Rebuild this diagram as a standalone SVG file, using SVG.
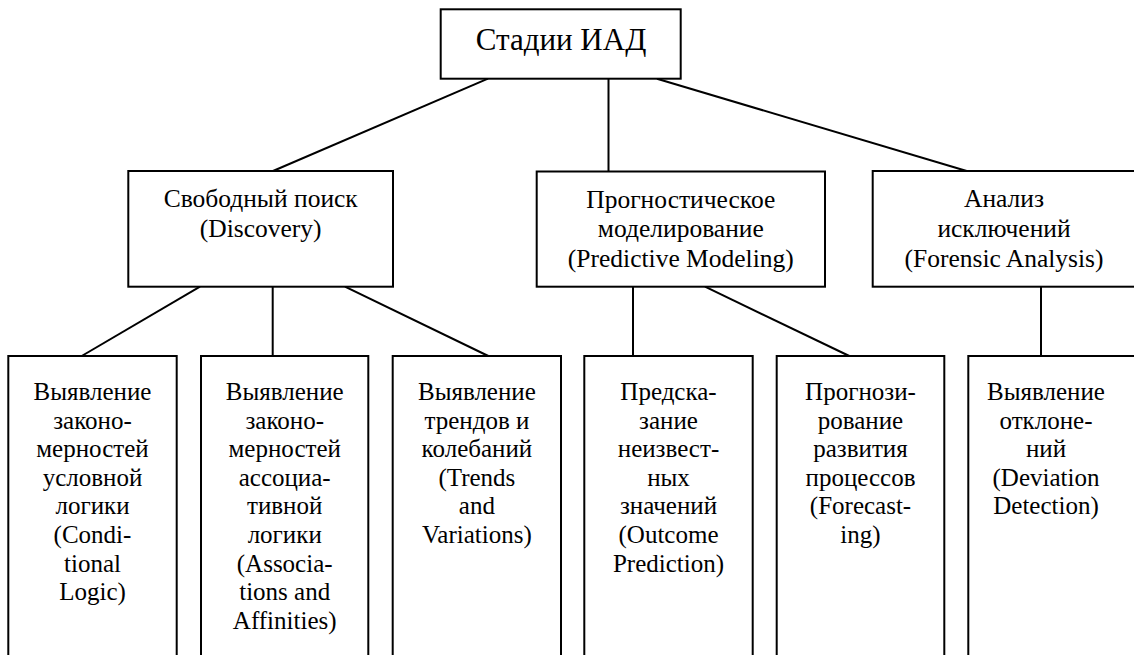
<svg xmlns="http://www.w3.org/2000/svg" width="1134" height="655" viewBox="0 0 1134 655">
<style>
rect{fill:#fff;stroke:#000;stroke-width:2}
line{stroke:#000;stroke-width:2}
text{fill:#000;text-anchor:middle;font-family:'Liberation Serif','DejaVu Serif','Noto Serif',serif}
.t{font-size:31px}
.m{font-size:25.5px}
.b{font-size:25px}
</style>
<rect x="0" y="0" width="1134" height="655" style="stroke:none"/>
<g id="connectors">
<line x1="488" y1="78.7" x2="273" y2="171"/>
<line x1="608.5" y1="78.7" x2="608.5" y2="171.5"/>
<line x1="657" y1="78.7" x2="966.7" y2="171"/>
<line x1="200" y1="286.7" x2="81.7" y2="356"/>
<line x1="272.7" y1="286.7" x2="272.7" y2="356"/>
<line x1="345" y1="286.7" x2="488.3" y2="356"/>
<line x1="633" y1="286.7" x2="633" y2="356"/>
<line x1="705" y1="286.7" x2="849.3" y2="356"/>
<line x1="1041" y1="286.7" x2="1041" y2="356"/>
</g>
<g id="root">
<rect x="440.7" y="9.3" width="240" height="69.4"/>
<text class="t" x="561" y="50">Стадии ИАД</text>
</g>
<g id="discovery">
<rect x="128.3" y="171" width="264.7" height="115.7"/>
<text class="m"><tspan x="260.7" y="207">Свободный поиск</tspan><tspan x="260.7" y="237">(Discovery)</tspan></text>
</g>
<g id="predictive">
<rect x="536.7" y="171.5" width="288.3" height="115.2"/>
<text class="m"><tspan x="680.8" y="207.5">Прогностическое</tspan><tspan x="680.8" y="237">моделирование</tspan><tspan x="680.8" y="266.5">(Predictive Modeling)</tspan></text>
</g>
<g id="forensic">
<rect x="872.7" y="171" width="270" height="115.7"/>
<text class="m"><tspan x="1004" y="207">Анализ</tspan><tspan x="1004" y="237">исключений</tspan><tspan x="1004" y="266.5">(Forensic Analysis)</tspan></text>
</g>
<g id="conditional">
<rect x="8.3" y="356" width="168.4" height="320"/>
<text class="b"><tspan x="92.5" y="400">Выявление</tspan><tspan x="92.5" y="428.6">законо-</tspan><tspan x="92.5" y="457.2">мерностей</tspan><tspan x="92.5" y="485.8">условной</tspan><tspan x="92.5" y="514.4">логики</tspan><tspan x="92.5" y="543">(Condi-</tspan><tspan x="92.5" y="571.6">tional</tspan><tspan x="92.5" y="600.2">Logic)</tspan></text>
</g>
<g id="associations">
<rect x="201" y="356" width="167.3" height="320"/>
<text class="b"><tspan x="284.7" y="400">Выявление</tspan><tspan x="284.7" y="428.6">законо-</tspan><tspan x="284.7" y="457.2">мерностей</tspan><tspan x="284.7" y="485.8">ассоциа-</tspan><tspan x="284.7" y="514.4">тивной</tspan><tspan x="284.7" y="543">логики</tspan><tspan x="284.7" y="571.6">(Associa-</tspan><tspan x="284.7" y="600.2">tions and</tspan><tspan x="284.7" y="628.8">Affinities)</tspan></text>
</g>
<g id="trends">
<rect x="392.7" y="356" width="168.3" height="320"/>
<text class="b"><tspan x="476.9" y="400">Выявление</tspan><tspan x="476.9" y="428.6">трендов и</tspan><tspan x="476.9" y="457.2">колебаний</tspan><tspan x="476.9" y="485.8">(Trends</tspan><tspan x="476.9" y="514.4">and</tspan><tspan x="476.9" y="543">Variations)</tspan></text>
</g>
<g id="outcome">
<rect x="584.3" y="356" width="168.4" height="320"/>
<text class="b"><tspan x="668.5" y="400">Предска-</tspan><tspan x="668.5" y="428.6">зание</tspan><tspan x="668.5" y="457.2">неизвест-</tspan><tspan x="668.5" y="485.8">ных</tspan><tspan x="668.5" y="514.4">значений</tspan><tspan x="668.5" y="543">(Outcome</tspan><tspan x="668.5" y="571.6">Prediction)</tspan></text>
</g>
<g id="forecasting">
<rect x="776.7" y="356" width="167.6" height="320"/>
<text class="b"><tspan x="860.5" y="400">Прогнози-</tspan><tspan x="860.5" y="428.6">рование</tspan><tspan x="860.5" y="457.2">развития</tspan><tspan x="860.5" y="485.8">процессов</tspan><tspan x="860.5" y="514.4">(Forecast-</tspan><tspan x="860.5" y="543">ing)</tspan></text>
</g>
<g id="deviation">
<rect x="968.3" y="356" width="180" height="320"/>
<text class="b"><tspan x="1046" y="400">Выявление</tspan><tspan x="1046" y="428.6">отклоне-</tspan><tspan x="1046" y="457.2">ний</tspan><tspan x="1046" y="485.8">(Deviation</tspan><tspan x="1046" y="514.4">Detection)</tspan></text>
</g>
</svg>
